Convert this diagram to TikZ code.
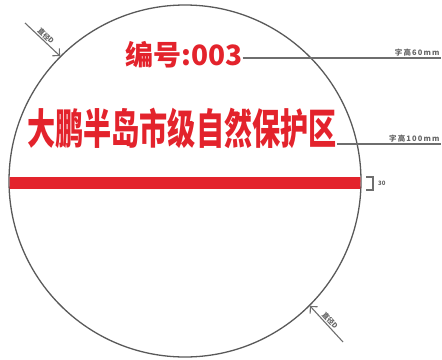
\documentclass[tikz,border=0pt]{standalone}
\usepackage{fontspec}
\newfontfamily\cjk{Noto Sans CJK SC}
\newfontfamily\cjknote{Noto Sans CJK SC}[LetterSpace=15]
\usetikzlibrary{arrows.meta}
\definecolor{plated}{HTML}{E3232C}
\definecolor{guide}{HTML}{6E6E6E}

\begin{document}
\begin{tikzpicture}[x=1pt,y=-1pt,
  note/.style={font=\cjknote\bfseries\fontsize{7.5}{8}\selectfont, text=black!60, inner sep=1pt},
  guideline/.style={guide, line width=1.1pt},
  dimarrow/.style={guide, line width=1.1pt, -{Straight Barb[length=5pt,width=10pt]}}]
\useasboundingbox (0,0) rectangle (442,359);
\node[circle, draw=black!65, line width=1.3pt, minimum size=352pt, inner sep=0pt] (plate) at (185,181) {};
\begin{scope}
  \clip (185,181) circle (175.5pt);
  \fill[plated] (0,177) rectangle (442,189);
\end{scope}
% texts on the plate
\node[text=plated, inner sep=0pt, font=\cjk\bfseries\fontsize{28}{28}\selectfont] (num) at (184,55) {编号:003};
\node[text=plated, inner sep=0pt, font=\cjk\bfseries\fontsize{42}{42}\selectfont] (title) at (182,128) {\scalebox{0.67}[1]{大鹏半岛市级自然保护区}};
% leaders
\coordinate (h60) at (441,58);
\coordinate (h100) at (441,144);
\draw[guideline] (num.east |- h60) -- (h60) node[note, pos=1, above left] {字高60mm};
\draw[guideline] (title.east |- h100) -- (h100) node[note, pos=1, above left] {字高100mm};
\draw[guideline] (366,177) -| (373,190) -- (366,190);
\node[note, font=\cjk\bfseries\fontsize{6}{6}\selectfont, anchor=west] (bar) at (377,183) {30};
% diameter arrows
\coordinate (dtl) at (25,23);
\coordinate (dbr) at (343,342);
\draw[dimarrow] (dtl) -- (plate.135) node[note, midway, sloped, above, font=\cjk\bfseries\fontsize{7}{7}\selectfont] {直径D};
\draw[dimarrow] (dbr) -- (plate.-45) node[note, midway, sloped, above, font=\cjk\bfseries\fontsize{7}{7}\selectfont] {直径D};
\end{tikzpicture}
\end{document}
